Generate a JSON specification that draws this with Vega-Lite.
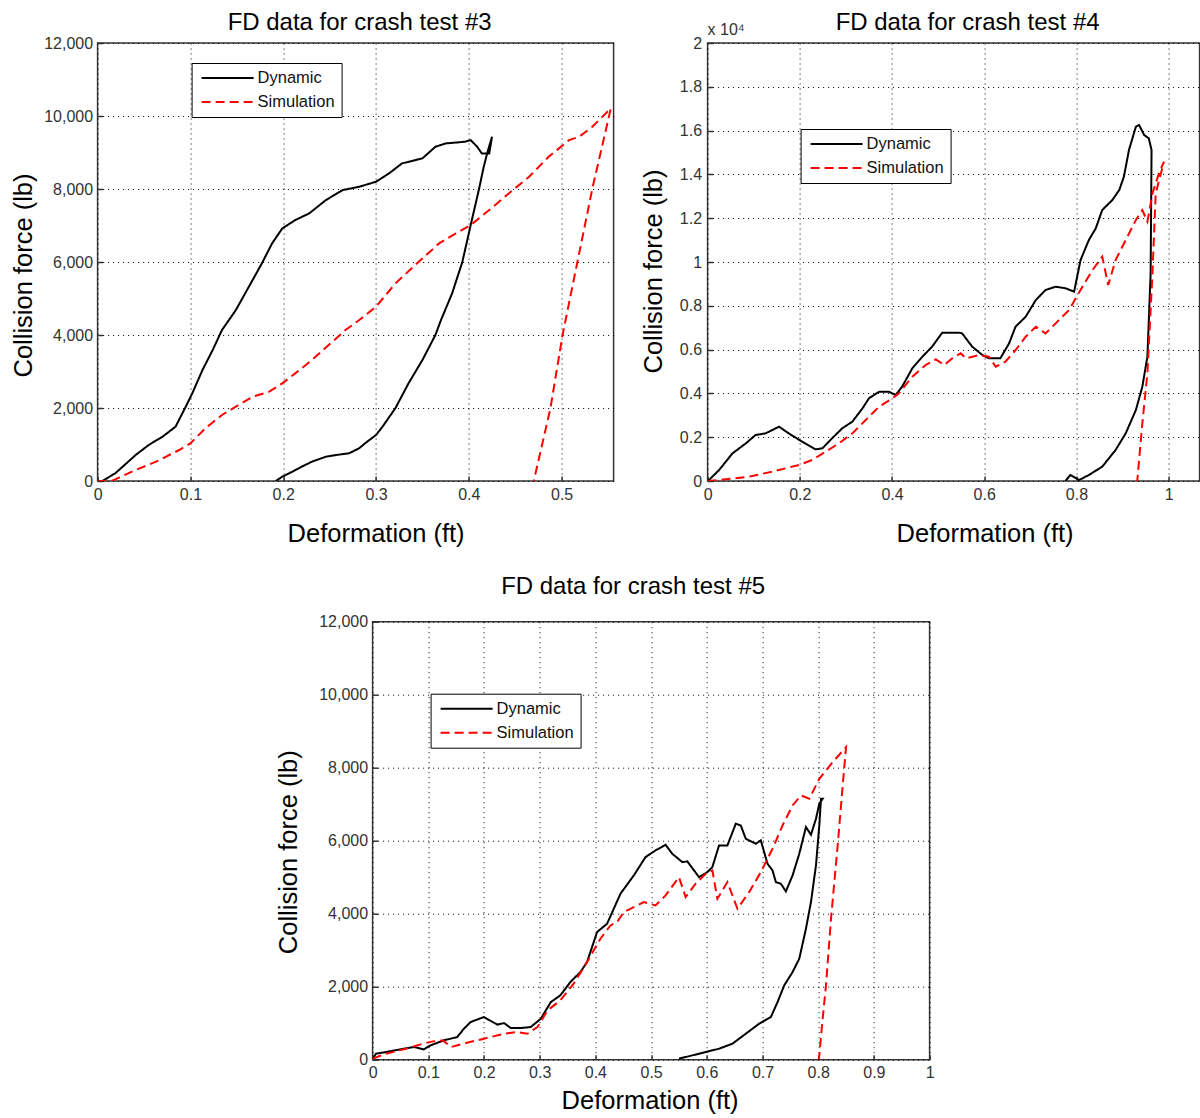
{
  "$schema": "https://vega.github.io/schema/vega-lite/v6.json",
  "padding": {"left": 10.6, "top": 9, "right": 0, "bottom": 0},
  "background": "white",
  "bounds": "full",
  "spacing": 26.7,
  "resolve": {"legend": {"color": "independent", "strokeDash": "independent"}},
  "config": {
    "font": "Liberation Sans",
    "view": {"stroke": "#333333", "strokeWidth": 1.5},
    "axis": {"grid": true, "gridDash": [1, 4], "gridColor": "#000", "gridWidth": 1, "domain": false, "ticks": true, "tickSize": -5, "tickColor": "#333", "tickWidth": 1.5, "labelFont": "Liberation Sans", "labelFontSize": 16, "labelColor": "#333", "labelFlush": false, "titleFont": "Liberation Sans", "titleFontSize": 25.5, "titleFontWeight": "normal", "titleColor": "#000"},
    "axisX": {"labelPadding": 10},
    "axisY": {"labelPadding": 10},
    "title": {"font": "Liberation Sans", "fontSize": 24, "fontWeight": "normal", "color": "#000", "frame": "group", "anchor": "middle", "baseline": "alphabetic"},
    "legend": {"orient": "none", "title": null, "strokeColor": "#000", "fillColor": "#fff", "padding": 6, "symbolType": "stroke", "symbolSize": 2704, "symbolStrokeWidth": 2, "symbolOffset": 3, "clipHeight": 18, "rowPadding": 6, "labelFont": "Liberation Sans", "labelFontSize": 16.5, "labelColor": "#111", "labelOffset": 3, "labelLimit": 300}
  },
  "datasets": {
    "t3": [
      {"s":"Dynamic","x":0.0,"f":0},{"s":"Dynamic","x":0.005,"f":0},{"s":"Dynamic","x":0.019,"f":210},{"s":"Dynamic","x":0.041,"f":712},{"s":"Dynamic","x":0.055,"f":986},{"s":"Dynamic","x":0.07,"f":1214},{"s":"Dynamic","x":0.084,"f":1488},{"s":"Dynamic","x":0.095,"f":2036},{"s":"Dynamic","x":0.102,"f":2401},{"s":"Dynamic","x":0.113,"f":3040},{"s":"Dynamic","x":0.124,"f":3588},{"s":"Dynamic","x":0.134,"f":4136},{"s":"Dynamic","x":0.149,"f":4684},{"s":"Dynamic","x":0.163,"f":5323},{"s":"Dynamic","x":0.177,"f":5962},{"s":"Dynamic","x":0.188,"f":6510},{"s":"Dynamic","x":0.199,"f":6920},{"s":"Dynamic","x":0.213,"f":7149},{"s":"Dynamic","x":0.228,"f":7331},{"s":"Dynamic","x":0.246,"f":7697},{"s":"Dynamic","x":0.264,"f":7970},{"s":"Dynamic","x":0.282,"f":8062},{"s":"Dynamic","x":0.3,"f":8199},{"s":"Dynamic","x":0.314,"f":8427},{"s":"Dynamic","x":0.328,"f":8701},{"s":"Dynamic","x":0.35,"f":8838},{"s":"Dynamic","x":0.364,"f":9158},{"s":"Dynamic","x":0.375,"f":9249},{"s":"Dynamic","x":0.396,"f":9295},{"s":"Dynamic","x":0.402,"f":9340},{"s":"Dynamic","x":0.409,"f":9158},{"s":"Dynamic","x":0.414,"f":8975},{"s":"Dynamic","x":0.422,"f":8975},{"s":"Dynamic","x":0.425,"f":9431},
      {"s":"Dynamic","x":0.42,"f":9000},{"s":"Dynamic","x":0.416,"f":8600},{"s":"Dynamic","x":0.411,"f":8000},{"s":"Dynamic","x":0.402,"f":7012},{"s":"Dynamic","x":0.393,"f":6000},{"s":"Dynamic","x":0.382,"f":5140},{"s":"Dynamic","x":0.37,"f":4410},{"s":"Dynamic","x":0.364,"f":4000},{"s":"Dynamic","x":0.35,"f":3314},{"s":"Dynamic","x":0.335,"f":2675},{"s":"Dynamic","x":0.321,"f":2000},{"s":"Dynamic","x":0.307,"f":1488},{"s":"Dynamic","x":0.3,"f":1260},{"s":"Dynamic","x":0.289,"f":1050},{"s":"Dynamic","x":0.282,"f":900},{"s":"Dynamic","x":0.271,"f":758},{"s":"Dynamic","x":0.257,"f":712},{"s":"Dynamic","x":0.246,"f":666},{"s":"Dynamic","x":0.231,"f":530},{"s":"Dynamic","x":0.22,"f":393},{"s":"Dynamic","x":0.21,"f":256},{"s":"Dynamic","x":0.199,"f":119},{"s":"Dynamic","x":0.192,"f":0},
      {"s":"Simulation","x":0.0,"f":0},{"s":"Simulation","x":0.015,"f":0},{"s":"Simulation","x":0.019,"f":46},{"s":"Simulation","x":0.041,"f":301},{"s":"Simulation","x":0.063,"f":530},{"s":"Simulation","x":0.088,"f":849},{"s":"Simulation","x":0.1,"f":1032},{"s":"Simulation","x":0.116,"f":1443},{"s":"Simulation","x":0.134,"f":1808},{"s":"Simulation","x":0.149,"f":2036},{"s":"Simulation","x":0.167,"f":2310},{"s":"Simulation","x":0.185,"f":2447},{"s":"Simulation","x":0.199,"f":2675},{"s":"Simulation","x":0.213,"f":2949},{"s":"Simulation","x":0.231,"f":3314},{"s":"Simulation","x":0.249,"f":3725},{"s":"Simulation","x":0.267,"f":4136},{"s":"Simulation","x":0.282,"f":4410},{"s":"Simulation","x":0.3,"f":4775},{"s":"Simulation","x":0.321,"f":5414},{"s":"Simulation","x":0.346,"f":6008},{"s":"Simulation","x":0.368,"f":6510},{"s":"Simulation","x":0.386,"f":6784},{"s":"Simulation","x":0.402,"f":7012},{"s":"Simulation","x":0.422,"f":7423},{"s":"Simulation","x":0.443,"f":7879},{"s":"Simulation","x":0.465,"f":8336},{"s":"Simulation","x":0.486,"f":8884},{"s":"Simulation","x":0.508,"f":9340},{"s":"Simulation","x":0.519,"f":9431},{"s":"Simulation","x":0.533,"f":9705},{"s":"Simulation","x":0.553,"f":10207},{"s":"Simulation","x":0.533,"f":8000},{"s":"Simulation","x":0.517,"f":6000},{"s":"Simulation","x":0.501,"f":4000},{"s":"Simulation","x":0.488,"f":2000},{"s":"Simulation","x":0.47,"f":0}
    ],
    "t4": [
      {"s":"Dynamic","x":0.0,"f":0},{"s":"Dynamic","x":0.003,"f":46},{"s":"Dynamic","x":0.025,"f":502},{"s":"Dynamic","x":0.054,"f":1263},{"s":"Dynamic","x":0.083,"f":1720},{"s":"Dynamic","x":0.104,"f":2100},{"s":"Dynamic","x":0.126,"f":2176},{"s":"Dynamic","x":0.155,"f":2481},{"s":"Dynamic","x":0.176,"f":2176},{"s":"Dynamic","x":0.205,"f":1796},{"s":"Dynamic","x":0.234,"f":1446},{"s":"Dynamic","x":0.249,"f":1492},{"s":"Dynamic","x":0.27,"f":1948},{"s":"Dynamic","x":0.292,"f":2405},{"s":"Dynamic","x":0.314,"f":2709},{"s":"Dynamic","x":0.336,"f":3318},{"s":"Dynamic","x":0.35,"f":3775},{"s":"Dynamic","x":0.372,"f":4079},{"s":"Dynamic","x":0.393,"f":4079},{"s":"Dynamic","x":0.408,"f":3927},{"s":"Dynamic","x":0.422,"f":4307},{"s":"Dynamic","x":0.444,"f":5144},{"s":"Dynamic","x":0.466,"f":5677},{"s":"Dynamic","x":0.487,"f":6134},{"s":"Dynamic","x":0.509,"f":6773},{"s":"Dynamic","x":0.545,"f":6773},{"s":"Dynamic","x":0.552,"f":6742},{"s":"Dynamic","x":0.574,"f":6134},{"s":"Dynamic","x":0.596,"f":5753},{"s":"Dynamic","x":0.61,"f":5601},{"s":"Dynamic","x":0.635,"f":5601},{"s":"Dynamic","x":0.654,"f":6286},{"s":"Dynamic","x":0.668,"f":7047},{"s":"Dynamic","x":0.69,"f":7503},{"s":"Dynamic","x":0.712,"f":8264},{"s":"Dynamic","x":0.733,"f":8721},{"s":"Dynamic","x":0.755,"f":8873},{"s":"Dynamic","x":0.777,"f":8797},{"s":"Dynamic","x":0.795,"f":8645},{"s":"Dynamic","x":0.809,"f":10091},{"s":"Dynamic","x":0.827,"f":11004},{"s":"Dynamic","x":0.842,"f":11537},{"s":"Dynamic","x":0.856,"f":12374},{"s":"Dynamic","x":0.878,"f":12831},{"s":"Dynamic","x":0.893,"f":13287},{"s":"Dynamic","x":0.903,"f":13896},{"s":"Dynamic","x":0.914,"f":15113},{"s":"Dynamic","x":0.929,"f":16179},{"s":"Dynamic","x":0.936,"f":16255},{"s":"Dynamic","x":0.947,"f":15798},{"s":"Dynamic","x":0.957,"f":15646},{"s":"Dynamic","x":0.963,"f":15113},{"s":"Dynamic","x":0.961,"f":9482},{"s":"Dynamic","x":0.954,"f":5677},{"s":"Dynamic","x":0.943,"f":4307},{"s":"Dynamic","x":0.929,"f":3242},{"s":"Dynamic","x":0.907,"f":2176},{"s":"Dynamic","x":0.885,"f":1415},{"s":"Dynamic","x":0.856,"f":654},{"s":"Dynamic","x":0.827,"f":274},{"s":"Dynamic","x":0.806,"f":46},{"s":"Dynamic","x":0.787,"f":274},{"s":"Dynamic","x":0.776,"f":0},
      {"s":"Simulation","x":0.0,"f":0},{"s":"Simulation","x":0.039,"f":76},{"s":"Simulation","x":0.09,"f":198},{"s":"Simulation","x":0.14,"f":426},{"s":"Simulation","x":0.198,"f":730},{"s":"Simulation","x":0.227,"f":959},{"s":"Simulation","x":0.256,"f":1339},{"s":"Simulation","x":0.285,"f":1720},{"s":"Simulation","x":0.314,"f":2176},{"s":"Simulation","x":0.343,"f":2785},{"s":"Simulation","x":0.372,"f":3394},{"s":"Simulation","x":0.401,"f":3775},{"s":"Simulation","x":0.415,"f":4003},{"s":"Simulation","x":0.444,"f":4764},{"s":"Simulation","x":0.473,"f":5297},{"s":"Simulation","x":0.495,"f":5555},{"s":"Simulation","x":0.513,"f":5297},{"s":"Simulation","x":0.531,"f":5601},{"s":"Simulation","x":0.549,"f":5829},{"s":"Simulation","x":0.56,"f":5601},{"s":"Simulation","x":0.589,"f":5753},{"s":"Simulation","x":0.61,"f":5677},{"s":"Simulation","x":0.625,"f":5220},{"s":"Simulation","x":0.646,"f":5449},{"s":"Simulation","x":0.668,"f":5981},{"s":"Simulation","x":0.69,"f":6590},{"s":"Simulation","x":0.712,"f":7047},{"s":"Simulation","x":0.733,"f":6742},{"s":"Simulation","x":0.755,"f":7199},{"s":"Simulation","x":0.784,"f":7808},{"s":"Simulation","x":0.813,"f":8873},{"s":"Simulation","x":0.835,"f":9634},{"s":"Simulation","x":0.856,"f":10243},{"s":"Simulation","x":0.869,"f":8949},{"s":"Simulation","x":0.885,"f":10091},{"s":"Simulation","x":0.907,"f":11004},{"s":"Simulation","x":0.929,"f":11917},{"s":"Simulation","x":0.943,"f":12374},{"s":"Simulation","x":0.954,"f":11841},{"s":"Simulation","x":0.965,"f":13135},{"s":"Simulation","x":0.979,"f":14048},{"s":"Simulation","x":0.99,"f":14580},{"s":"Simulation","x":0.972,"f":13135},{"s":"Simulation","x":0.965,"f":9482},{"s":"Simulation","x":0.954,"f":4916},{"s":"Simulation","x":0.943,"f":2633},{"s":"Simulation","x":0.932,"f":0}
    ],
    "t4note": [{"t": "x 10⁴", "x": 0, "f": 20000}],
    "t5": [
      {"s":"Dynamic","x":0.0,"f":27},{"s":"Dynamic","x":0.006,"f":164},{"s":"Dynamic","x":0.024,"f":210},{"s":"Dynamic","x":0.056,"f":301},{"s":"Dynamic","x":0.074,"f":347},{"s":"Dynamic","x":0.092,"f":283},{"s":"Dynamic","x":0.104,"f":393},{"s":"Dynamic","x":0.128,"f":530},{"s":"Dynamic","x":0.152,"f":621},{"s":"Dynamic","x":0.164,"f":849},{"s":"Dynamic","x":0.176,"f":1032},{"s":"Dynamic","x":0.2,"f":1169},{"s":"Dynamic","x":0.224,"f":959},{"s":"Dynamic","x":0.236,"f":1004},{"s":"Dynamic","x":0.248,"f":867},{"s":"Dynamic","x":0.266,"f":867},{"s":"Dynamic","x":0.284,"f":895},{"s":"Dynamic","x":0.302,"f":1123},{"s":"Dynamic","x":0.32,"f":1579},{"s":"Dynamic","x":0.337,"f":1762},{"s":"Dynamic","x":0.355,"f":2127},{"s":"Dynamic","x":0.373,"f":2401},{"s":"Dynamic","x":0.385,"f":2675},{"s":"Dynamic","x":0.403,"f":3497},{"s":"Dynamic","x":0.421,"f":3725},{"s":"Dynamic","x":0.445,"f":4547},{"s":"Dynamic","x":0.469,"f":5049},{"s":"Dynamic","x":0.49,"f":5551},{"s":"Dynamic","x":0.508,"f":5734},{"s":"Dynamic","x":0.526,"f":5889},{"s":"Dynamic","x":0.538,"f":5642},{"s":"Dynamic","x":0.556,"f":5414},{"s":"Dynamic","x":0.565,"f":5432},{"s":"Dynamic","x":0.586,"f":5003},{"s":"Dynamic","x":0.601,"f":5140},{"s":"Dynamic","x":0.61,"f":5277},{"s":"Dynamic","x":0.622,"f":5871},{"s":"Dynamic","x":0.637,"f":5871},{"s":"Dynamic","x":0.652,"f":6464},{"s":"Dynamic","x":0.661,"f":6418},{"s":"Dynamic","x":0.67,"f":6053},{"s":"Dynamic","x":0.688,"f":5916},{"s":"Dynamic","x":0.697,"f":6008},{"s":"Dynamic","x":0.709,"f":5368},{"s":"Dynamic","x":0.718,"f":5186},{"s":"Dynamic","x":0.724,"f":4866},{"s":"Dynamic","x":0.733,"f":4821},{"s":"Dynamic","x":0.742,"f":4611},{"s":"Dynamic","x":0.754,"f":5049},{"s":"Dynamic","x":0.766,"f":5642},{"s":"Dynamic","x":0.778,"f":6373},{"s":"Dynamic","x":0.787,"f":6163},{"s":"Dynamic","x":0.796,"f":6601},{"s":"Dynamic","x":0.802,"f":7012},{"s":"Dynamic","x":0.808,"f":7149},{"s":"Dynamic","x":0.805,"f":7149},{"s":"Dynamic","x":0.802,"f":6418},{"s":"Dynamic","x":0.796,"f":5323},{"s":"Dynamic","x":0.787,"f":4318},{"s":"Dynamic","x":0.778,"f":3588},{"s":"Dynamic","x":0.766,"f":2766},{"s":"Dynamic","x":0.754,"f":2401},{"s":"Dynamic","x":0.739,"f":2036},{"s":"Dynamic","x":0.727,"f":1579},{"s":"Dynamic","x":0.715,"f":1169},{"s":"Dynamic","x":0.694,"f":986},{"s":"Dynamic","x":0.67,"f":712},{"s":"Dynamic","x":0.646,"f":438},{"s":"Dynamic","x":0.622,"f":301},{"s":"Dynamic","x":0.598,"f":210},{"s":"Dynamic","x":0.574,"f":119},{"s":"Dynamic","x":0.55,"f":27},
      {"s":"Simulation","x":0.0,"f":27},{"s":"Simulation","x":0.024,"f":164},{"s":"Simulation","x":0.06,"f":301},{"s":"Simulation","x":0.09,"f":438},{"s":"Simulation","x":0.108,"f":502},{"s":"Simulation","x":0.126,"f":530},{"s":"Simulation","x":0.141,"f":347},{"s":"Simulation","x":0.162,"f":438},{"s":"Simulation","x":0.2,"f":575},{"s":"Simulation","x":0.236,"f":712},{"s":"Simulation","x":0.26,"f":758},{"s":"Simulation","x":0.278,"f":712},{"s":"Simulation","x":0.296,"f":895},{"s":"Simulation","x":0.314,"f":1351},{"s":"Simulation","x":0.337,"f":1625},{"s":"Simulation","x":0.361,"f":2082},{"s":"Simulation","x":0.385,"f":2675},{"s":"Simulation","x":0.409,"f":3314},{"s":"Simulation","x":0.427,"f":3679},{"s":"Simulation","x":0.439,"f":3771},{"s":"Simulation","x":0.451,"f":4045},{"s":"Simulation","x":0.469,"f":4182},{"s":"Simulation","x":0.487,"f":4318},{"s":"Simulation","x":0.508,"f":4227},{"s":"Simulation","x":0.526,"f":4501},{"s":"Simulation","x":0.55,"f":5003},{"s":"Simulation","x":0.562,"f":4456},{"s":"Simulation","x":0.58,"f":4821},{"s":"Simulation","x":0.598,"f":5095},{"s":"Simulation","x":0.61,"f":5186},{"s":"Simulation","x":0.619,"f":4410},{"s":"Simulation","x":0.637,"f":4866},{"s":"Simulation","x":0.646,"f":4501},{"s":"Simulation","x":0.655,"f":4136},{"s":"Simulation","x":0.676,"f":4592},{"s":"Simulation","x":0.697,"f":5140},{"s":"Simulation","x":0.718,"f":5779},{"s":"Simulation","x":0.736,"f":6418},{"s":"Simulation","x":0.754,"f":6966},{"s":"Simulation","x":0.769,"f":7240},{"s":"Simulation","x":0.784,"f":7149},{"s":"Simulation","x":0.802,"f":7697},{"s":"Simulation","x":0.826,"f":8153},{"s":"Simulation","x":0.85,"f":8564},{"s":"Simulation","x":0.844,"f":7514},{"s":"Simulation","x":0.835,"f":5871},{"s":"Simulation","x":0.823,"f":3862},{"s":"Simulation","x":0.814,"f":2036},{"s":"Simulation","x":0.808,"f":1123},{"s":"Simulation","x":0.802,"f":119},{"s":"Simulation","x":0.801,"f":0}
    ]
  },
  "vconcat": [
    {
      "hconcat": [
        {
          "width": 516, "height": 438,
          "title": {"text": "FD data for crash test #3", "dx": 4, "offset": 0},
          "data": {"name": "t3"},
          "mark": {"type": "line", "strokeWidth": 2, "clip": true},
          "encoding": {
            "x": {"field": "x", "type": "quantitative", "scale": {"domain": [0, 0.556], "nice": false, "zero": false}, "axis": {"values": [0, 0.1, 0.2, 0.3, 0.4, 0.5], "format": ".1~f", "title": "Deformation (ft)", "titleX": 278, "titleY": 60, "titleBaseline": "alphabetic"}},
            "y": {"field": "f", "type": "quantitative", "scale": {"domain": [0, 12000], "nice": false}, "axis": {"values": [0, 2000, 4000, 6000, 8000, 10000, 12000], "format": ",d", "title": "Collision force (lb)", "titleX": -66, "titleY": 232, "titleBaseline": "alphabetic"}},
            "color": {"field": "s", "type": "nominal", "scale": {"domain": ["Dynamic", "Simulation"], "range": ["#000000", "#ff0000"]}, "legend": {"legendX": 94, "legendY": 20}},
            "strokeDash": {"field": "s", "type": "nominal", "scale": {"domain": ["Dynamic", "Simulation"], "range": [[1, 0], [9, 5]]}, "legend": {"legendX": 94, "legendY": 20}},
            "order": {"value": null}
          }
        },
        {
          "width": 492, "height": 438,
          "title": {"text": "FD data for crash test #4", "dx": 14, "offset": -12.6},
          "layer": [
            {
              "data": {"name": "t4"},
              "mark": {"type": "line", "strokeWidth": 2, "clip": true},
              "encoding": {
                "x": {"field": "x", "type": "quantitative", "scale": {"domain": [0, 1.0672], "nice": false, "zero": false}, "axis": {"values": [0, 0.2, 0.4, 0.6, 0.8, 1.0], "format": ".1~f", "title": "Deformation (ft)", "titleX": 277, "titleY": 60, "titleBaseline": "alphabetic"}},
                "y": {"field": "f", "type": "quantitative", "scale": {"domain": [0, 20000], "nice": false}, "axis": {"values": [0, 2000, 4000, 6000, 8000, 10000, 12000, 14000, 16000, 18000, 20000], "labelExpr": "format(datum.value / 10000, '.1~f')", "labelPadding": 11, "title": "Collision force (lb)", "titleX": -46, "titleY": 228, "titleBaseline": "alphabetic"}},
                "color": {"field": "s", "type": "nominal", "scale": {"domain": ["Dynamic", "Simulation"], "range": ["#000000", "#ff0000"]}, "legend": {"legendX": 93, "legendY": 86}},
                "strokeDash": {"field": "s", "type": "nominal", "scale": {"domain": ["Dynamic", "Simulation"], "range": [[1, 0], [9, 5]]}, "legend": {"legendX": 93, "legendY": 86}},
                "order": {"value": null}
              }
            },
            {
              "data": {"name": "t4note"},
              "mark": {"type": "text", "align": "left", "baseline": "alphabetic", "dy": -8, "font": "Liberation Sans", "fontSize": 16, "color": "#333"},
              "encoding": {"x": {"field": "x", "type": "quantitative"}, "y": {"field": "f", "type": "quantitative"}, "text": {"field": "t"}}
            }
          ]
        }
      ],
      "spacing": 94,
      "bounds": "flush",
      "resolve": {"legend": {"color": "independent", "strokeDash": "independent"}}
    },
    {
      "hconcat": [
        {
          "width": 176.5, "height": 1,
          "data": {"values": []},
          "mark": "point",
          "view": {"stroke": null}
        },
        {
          "width": 557, "height": 438,
          "title": {"text": "FD data for crash test #5", "dx": -18, "offset": 14.2},
          "data": {"name": "t5"},
          "mark": {"type": "line", "strokeWidth": 2, "clip": true},
          "encoding": {
            "x": {"field": "x", "type": "quantitative", "scale": {"domain": [0, 1], "nice": false}, "axis": {"values": [0, 0.1, 0.2, 0.3, 0.4, 0.5, 0.6, 0.7, 0.8, 0.9, 1], "format": ".1~f", "title": "Deformation (ft)", "titleX": 277, "titleY": 49, "titleBaseline": "alphabetic"}},
            "y": {"field": "f", "type": "quantitative", "scale": {"domain": [0, 12000], "nice": false}, "axis": {"values": [0, 2000, 4000, 6000, 8000, 10000, 12000], "format": ",d", "title": "Collision force (lb)", "titleX": -76.5, "titleY": 230, "titleBaseline": "alphabetic"}},
            "color": {"field": "s", "type": "nominal", "scale": {"domain": ["Dynamic", "Simulation"], "range": ["#000000", "#ff0000"]}, "legend": {"legendX": 58, "legendY": 72}},
            "strokeDash": {"field": "s", "type": "nominal", "scale": {"domain": ["Dynamic", "Simulation"], "range": [[1, 0], [9, 5]]}, "legend": {"legendX": 58, "legendY": 72}},
            "order": {"value": null}
          }
        }
      ],
      "spacing": 0,
      "bounds": "full",
      "resolve": {"legend": {"color": "independent", "strokeDash": "independent"}}
    }
  ]
}
